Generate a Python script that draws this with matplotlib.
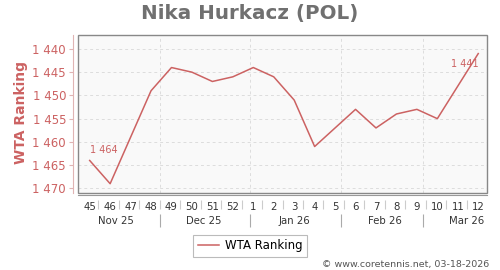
import datetime as dt
import matplotlib
matplotlib.use("Agg")
import matplotlib.pyplot as plt
import matplotlib.dates as mdates
from matplotlib.patches import Rectangle
from matplotlib.transforms import blended_transform_factory

# data
weeks = [45, 46, 47, 48, 49, 50, 51, 52, 1, 2, 3, 4, 5, 6, 7, 8, 9, 10, 11, 12]
ranking = [1464, 1469, 1459, 1449, 1444, 1445, 1447, 1446, 1444, 1446,
           1451, 1461, 1457, 1453, 1457, 1454, 1453, 1455, 1448, 1441]
months = ["Nov 25", "Dec 25", "Jan 26", "Feb 26", "Mar 26"]
month_starts = [dt.date(2025, 11, 1), dt.date(2025, 12, 1), dt.date(2026, 1, 1),
                dt.date(2026, 2, 1), dt.date(2026, 3, 1)]
yticks = [1440, 1445, 1450, 1455, 1460, 1465, 1470]

first_day = dt.date(2025, 11, 7)
dates = [first_day + dt.timedelta(days=7 * i) for i in range(len(weeks))]
mondays = [d - dt.timedelta(days=4) for d in dates] + [dates[-1] + dt.timedelta(days=3)]

red = "#cc6262"
fig = plt.figure(figsize=(5, 2.7), dpi=100)
ax = fig.add_axes([78 / 500, 1 - 193 / 270, 409 / 500, 158 / 270])
ax.set_facecolor("#f9f9f9")

ax.plot(dates, ranking, color=red, lw=1.1, zorder=3)
ax.set_xlim(mondays[0], mondays[-1])
ax.set_ylim(1471, 1437)

# grid
ax.set_yticks(yticks)
ax.set_yticklabels([f"{v // 1000} {v % 1000:03d}" for v in yticks])
for v in yticks:
    ax.axhline(v, color="#dddddd", lw=0.7, ls=(0, (3, 3)), zorder=1)
for m in month_starts[1:]:
    ax.axvline(m, color="#dddddd", lw=0.7, ls=(0, (3, 3)), zorder=1)

# frame
for s in ["top", "right"]:
    ax.spines[s].set_visible(False)
ax.add_patch(Rectangle((0, 0), 1, 1, transform=ax.transAxes, fill=False,
                       edgecolor="#888888", lw=1.0, zorder=4, clip_on=False))
ax.spines["left"].set_position(("outward", 3.6))
ax.spines["left"].set_color("#e0b4b4")
ax.spines["bottom"].set_position(("outward", 1.5))
ax.spines["bottom"].set_color("#999999")

ax.tick_params(axis="y", colors="#e0b4b4", labelcolor=red, labelsize=8.5,
               length=3, width=0.8, pad=2)
ax.set_xticks(dates)
ax.set_xticklabels([str(w) for w in weeks])
ax.tick_params(axis="x", length=0, labelsize=7.3, labelcolor="#333333", pad=5)

# separators and month labels
tr = blended_transform_factory(ax.transData, ax.transAxes)
ax.vlines(mondays[1:-1], -0.044, -0.101, transform=tr, color="#cccccc",
          lw=0.8, clip_on=False)
ax.vlines(month_starts[1:], -0.13, -0.215, transform=tr, color="#aaaaaa",
          lw=0.8, clip_on=False)
for name, m in zip(months, month_starts):
    mid = m + dt.timedelta(days=15)
    ax.text(mid, -0.175, name, transform=tr, ha="center", va="center",
            fontsize=7.3, color="#333333")

# point labels
ax.annotate("1 464", (dates[0], ranking[0]), xytext=(0, 4),
            textcoords="offset points", ha="left", va="bottom",
            fontsize=7, color=red)
ax.annotate("1 441", (dates[-1], ranking[-1]), xytext=(0, -4),
            textcoords="offset points", ha="right", va="top",
            fontsize=7, color=red)

fig.text(0.5, 1 - 14 / 270, "Nika Hurkacz (POL)", ha="center", va="center",
         fontsize=14.3, fontweight="bold", color="#707070")
fig.text(21 / 500, 1 - 113 / 270, "WTA Ranking", rotation=90, ha="center",
         va="center", fontsize=10, fontweight="bold", color=red)

leg = fig.legend(["WTA Ranking"], loc="center", bbox_to_anchor=(0.5, 1 - 246 / 270),
                 fontsize=8.5, frameon=True, fancybox=False, handlelength=1.8,
                 borderpad=0.4, handletextpad=0.5)
leg.get_frame().set_edgecolor("#aaaaaa")
leg.get_frame().set_linewidth(0.8)

fig.text(489 / 500, 1 - 264 / 270, "\u00a9 www.coretennis.net, 03-18-2026",
         ha="right", va="center", fontsize=6.8, color="#555555")

fig.savefig("out.png", dpi=100)
